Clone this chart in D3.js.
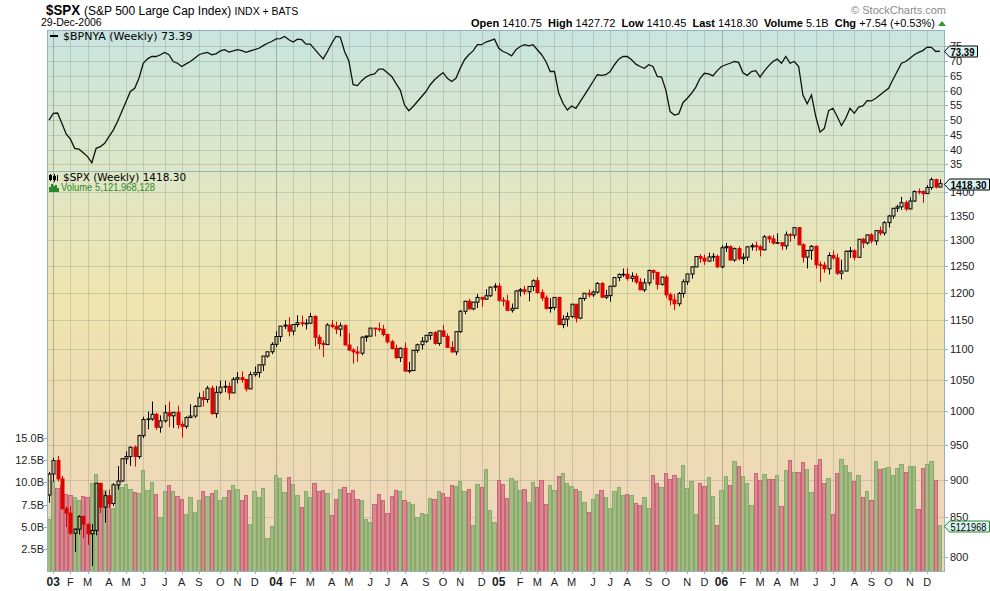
<!DOCTYPE html>
<html>
<head>
<meta charset="utf-8">
<script src="https://cdn.jsdelivr.net/npm/d3@7"></script>
<style>
body { margin: 0; background: #fff; }
svg text { font-family: "Liberation Sans", Arial, sans-serif; }
</style>
</head>
<body>
<svg id="chart" width="990" height="591"></svg>
<script>
// weekly $SPX, week ending 3-Jan-2003 .. 29-Dec-2006
var firstWeek = new Date(2003, 0, 3);

var opens = [
879.82,908.59,927.57,901.78,861.40,855.70,829.69,834.89,851.17,841.15,828.89,833.27,895.79,863.50,878.85,868.30,893.58,898.81,930.08,933.41,946.67,933.22,963.59,987.76,988.61,995.69,976.22,985.70,998.14,993.32,998.68,980.15,977.59,990.67,993.06,1008.01,1021.39,1018.63,1036.30,996.85,1029.85,1038.06,1039.32,1028.91,1050.71,1053.21,1050.35,1035.28,1058.20,1061.50,1074.14,1088.66,
1095.89,1108.48,1121.86,1139.83,1141.55,1131.13,1142.76,1145.81,1144.11,1144.94,1156.86,1120.57,1109.78,1108.06,1141.81,1139.32,1134.61,1140.60,1107.30,1098.70,1095.70,1093.56,1120.68,1122.50,1136.47,1135.02,1134.43,1125.38,1112.81,1101.39,1086.20,1101.72,1063.97,1064.80,1098.35,1107.77,1113.63,1123.92,1128.55,1110.11,1131.50,1122.14,1103.29,1095.74,1130.20,1166.17,1184.17,1170.34,1182.65,1191.17,1188.00,1194.20,1210.13,
1211.92,1186.19,1184.52,1167.87,1171.36,1203.03,1205.30,1201.59,1211.37,1222.12,1200.08,1190.21,1171.42,1172.92,1191.14,1142.62,1152.12,1156.85,1178.84,1154.05,1189.28,1198.78,1196.02,1200.93,1216.96,1191.57,1194.44,1211.86,1227.92,1233.68,1234.18,1226.42,1230.39,1219.71,1205.10,1218.02,1241.48,1237.91,1215.29,1228.81,1195.90,1186.57,1179.59,1198.41,1220.14,1234.72,1248.27,1268.25,1265.08,1259.37,1267.32,1268.66,
1248.29,1285.45,1287.61,1261.49,1283.72,1264.03,1266.99,1287.24,1289.43,1287.23,1281.42,1307.25,1302.95,1294.83,1295.50,1289.12,1311.28,1310.61,1325.76,1291.24,1267.03,1280.16,1288.22,1252.30,1251.54,1244.50,1270.20,1265.48,1236.20,1240.29,1278.55,1279.36,1266.74,1302.30,1295.09,1311.01,1298.92,1319.66,1314.78,1335.85,1349.59,1365.62,1368.60,1377.34,1364.30,1380.90,1401.20,1400.95,1396.71,1409.84,1427.09,1410.75
];

var highs = [
911.6,931.6,934.0,906.0,864.4,864.6,836.0,852.9,852.5,842.2,841.4,896.0,895.8,884.6,887.3,896.0,919.7,931.0,940.6,947.5,949.2,965.0,992.0,1000.0,1015.3,998.0,994.0,1010.0,1015.4,998.7,1009.0,985.0,992.5,1011.0,1010.0,1029.3,1032.4,1040.0,1040.3,1040.0,1048.3,1048.3,1046.0,1053.8,1062.4,1063.6,1050.4,1063.0,1071.4,1074.3,1088.7,1096.0,
1112.0,1131.0,1140.0,1150.1,1155.4,1143.0,1158.9,1158.2,1152.0,1163.2,1159.0,1125.0,1115.0,1144.8,1150.6,1147.8,1146.0,1142.8,1127.7,1102.0,1105.0,1122.0,1124.0,1136.5,1136.5,1146.3,1142.0,1126.0,1116.0,1108.0,1103.0,1111.6,1079.0,1099.0,1109.7,1121.0,1124.0,1129.8,1131.0,1131.6,1142.1,1127.0,1114.0,1131.0,1168.0,1184.8,1188.5,1183.0,1197.5,1191.5,1206.0,1211.0,1217.3,
1217.8,1192.0,1196.0,1180.0,1204.0,1208.4,1212.4,1212.0,1224.8,1229.1,1206.0,1195.0,1189.8,1191.9,1192.0,1159.0,1164.0,1178.9,1178.9,1191.0,1199.0,1205.6,1204.0,1219.6,1219.1,1205.0,1212.0,1229.0,1236.0,1245.2,1245.9,1237.8,1236.0,1227.0,1226.0,1243.1,1243.0,1238.0,1229.9,1233.3,1199.7,1197.3,1201.0,1224.7,1235.0,1249.6,1268.8,1272.9,1271.9,1275.8,1275.0,1272.0,
1290.8,1294.9,1290.0,1286.0,1287.9,1274.6,1289.0,1294.0,1297.6,1291.0,1310.9,1310.2,1310.5,1314.1,1296.6,1318.0,1314.7,1326.7,1326.7,1294.3,1280.5,1290.7,1290.0,1258.6,1257.9,1276.3,1280.4,1274.0,1262.0,1280.0,1287.0,1283.0,1302.3,1305.0,1312.0,1314.6,1320.0,1328.0,1339.2,1352.0,1366.0,1372.9,1389.5,1381.9,1388.6,1403.8,1407.9,1403.6,1415.0,1431.8,1429.0,1427.72
];

var lows = [
869.5,898.0,898.2,860.5,837.7,827.7,806.3,828.0,823.5,815.0,788.9,827.0,855.7,843.3,862.8,865.0,887.0,898.0,922.8,920.0,918.9,930.0,960.0,973.0,986.0,972.0,968.0,983.0,976.0,975.0,974.0,960.8,974.0,990.0,990.0,1008.0,1007.7,1013.6,995.0,990.4,1027.0,1030.0,1018.3,1028.9,1044.0,1045.0,1031.2,1035.0,1055.0,1053.4,1064.0,1086.0,
1092.0,1104.0,1113.0,1135.0,1122.0,1124.0,1138.0,1139.0,1134.0,1144.0,1105.0,1100.0,1087.2,1108.0,1136.0,1126.0,1122.0,1107.0,1098.0,1076.3,1079.0,1090.0,1113.0,1122.0,1122.0,1130.0,1122.0,1110.0,1100.0,1084.0,1078.8,1063.5,1060.7,1064.0,1094.0,1100.0,1111.0,1116.0,1108.0,1106.0,1121.0,1102.0,1094.0,1090.2,1128.0,1161.0,1170.0,1168.0,1172.0,1173.8,1187.0,1192.0,1203.0,
1183.0,1175.0,1167.8,1163.8,1171.0,1193.0,1196.0,1184.2,1203.0,1198.0,1185.0,1169.0,1163.7,1168.0,1142.6,1136.2,1139.0,1154.0,1146.2,1152.0,1185.0,1191.0,1192.0,1198.0,1191.0,1188.0,1183.5,1210.0,1221.0,1229.0,1222.0,1220.0,1216.0,1205.1,1201.1,1213.0,1224.0,1205.4,1213.0,1190.0,1176.4,1168.2,1175.0,1191.0,1214.0,1226.0,1248.0,1256.0,1252.0,1258.0,1258.9,1246.5,
1245.7,1277.0,1260.9,1257.9,1261.0,1253.6,1260.0,1280.0,1278.7,1268.4,1280.0,1295.0,1291.8,1294.0,1280.7,1282.0,1297.0,1303.5,1291.0,1256.6,1245.3,1262.0,1245.0,1219.3,1237.0,1234.0,1262.0,1233.0,1224.5,1240.0,1265.7,1261.0,1266.7,1285.0,1291.7,1294.0,1290.9,1310.0,1310.0,1326.0,1344.0,1358.0,1362.0,1360.0,1364.0,1379.0,1395.0,1377.0,1396.0,1404.8,1408.0,1410.45
];

var closes = [
908.59,927.57,901.78,861.40,855.70,829.69,834.89,851.17,841.15,828.89,833.27,895.79,863.50,878.85,868.30,893.58,898.81,930.08,933.41,946.67,933.22,963.59,987.76,988.61,995.69,976.22,985.70,998.14,993.32,998.68,980.15,977.59,990.67,993.06,1008.01,1021.39,1018.63,1036.30,996.85,1029.85,1038.06,1039.32,1028.91,1050.71,1053.21,1050.35,1035.28,1058.20,1061.50,1074.14,1088.66,1095.89,
1108.48,1121.86,1139.83,1141.55,1131.13,1142.76,1145.81,1144.11,1144.94,1156.86,1120.57,1109.78,1108.06,1141.81,1139.32,1134.61,1140.60,1107.30,1098.70,1095.70,1093.56,1120.68,1122.50,1136.47,1135.02,1134.43,1125.38,1112.81,1101.39,1086.20,1101.72,1063.97,1064.80,1098.35,1107.77,1113.63,1123.92,1128.55,1110.11,1131.50,1122.14,1103.29,1095.74,1130.20,1166.17,1184.17,1170.34,1182.65,1191.17,1188.00,1194.20,1210.13,1211.92,
1186.19,1184.52,1167.87,1171.36,1203.03,1205.30,1201.59,1211.37,1222.12,1200.08,1190.21,1171.42,1172.92,1191.14,1142.62,1152.12,1156.85,1178.84,1154.05,1189.28,1198.78,1196.02,1200.93,1216.96,1191.57,1194.44,1211.86,1227.92,1233.68,1234.18,1226.42,1230.39,1219.71,1205.10,1218.02,1241.48,1237.91,1215.29,1228.81,1195.90,1186.57,1179.59,1198.41,1220.14,1234.72,1248.27,1268.25,1265.08,1259.37,1267.32,1268.66,1248.29,
1285.45,1287.61,1261.49,1283.72,1264.03,1266.99,1287.24,1289.43,1287.23,1281.42,1307.25,1302.95,1294.83,1295.50,1289.12,1311.28,1310.61,1325.76,1291.24,1267.03,1280.16,1288.22,1252.30,1251.54,1244.50,1270.20,1265.48,1236.20,1240.29,1278.55,1279.36,1266.74,1302.30,1295.09,1311.01,1298.92,1319.66,1314.78,1335.85,1349.59,1365.62,1368.60,1377.34,1364.30,1380.90,1401.20,1400.95,1396.71,1409.84,1427.09,1410.76,1418.30
];

// volume, billions of shares
var volumes = [
5.8,10.1,9.3,9.6,8.6,8.5,8.3,7.9,8.4,8.3,9.85,10.9,9.85,9.1,8.0,7.1,9.6,9.4,9.7,9.2,8.85,8.7,11.3,9.1,10.0,8.6,6.1,9.0,9.6,8.9,8.4,8.1,6.4,8.3,6.65,8.0,8.9,8.4,8.7,9.1,7.9,8.3,9.1,9.6,9.2,8.0,8.55,5.3,8.9,8.3,9.3,3.75,
5.05,10.7,10.45,8.8,10.5,9.7,8.55,7.2,8.9,8.3,9.85,8.9,9.1,8.7,6.3,8.1,9.2,9.4,8.7,9.1,8.1,8.0,5.8,5.5,7.5,8.6,8.0,6.5,8.4,9.1,8.9,8.0,7.7,7.5,6.1,6.5,6.4,8.2,8.1,8.9,8.7,8.3,9.6,9.55,10.1,8.9,9.2,5.2,9.75,9.4,11.4,6.8,5.5,
10.2,9.75,8.2,10.4,10.1,9.1,9.2,7.7,10.0,9.4,10.2,7.5,9.6,9.1,10.6,11.0,9.85,9.55,9.2,9.0,7.7,6.6,8.1,8.6,9.1,8.3,7.1,8.9,9.4,8.55,8.6,8.5,7.6,7.4,8.3,7.1,10.75,9.9,9.4,11.0,10.3,10.75,10.4,11.85,9.3,10.1,6.4,9.85,9.5,10.5,8.4,5.1,
9.1,10.6,9.6,12.3,11.75,10.6,9.85,7.4,11.0,10.2,10.85,10.3,10.3,10.75,7.3,11.3,12.4,11.1,11.1,12.2,11.4,8.85,11.85,12.5,9.85,10.4,6.4,11.0,12.5,11.85,11.1,10.1,10.75,8.3,8.95,7.95,12.3,11.4,11.5,11.6,10.75,11.5,12.0,11.1,11.75,11.75,6.95,11.5,12.0,12.3,10.2,5.12
];

// $BPNYA weekly
var bpnya = [
50.0,52.3,52.4,48.9,45.3,43.5,40.4,40.1,38.9,37.6,35.5,40.4,41.0,42.1,44.4,46.6,49.5,52.9,56.3,59.7,60.8,64.2,69.3,70.8,71.6,71.6,72.2,73.0,72.2,69.9,69.3,68.2,69.1,69.9,71.0,72.2,72.7,73.0,72.2,72.5,73.5,73.9,73.1,73.5,73.9,73.6,73.0,73.5,73.9,74.4,75.3,76.1,
76.7,77.6,77.7,78.4,77.3,76.5,77.5,77.3,75.8,75.8,74.1,72.4,70.8,73.3,76.1,78.4,78.2,73.3,70.1,62.0,61.7,63.4,64.6,65.4,65.7,67.3,67.3,66.1,64.8,62.5,60.2,55.1,53.2,54.6,56.3,58.0,59.7,62.0,63.7,65.0,66.1,64.2,63.1,64.2,67.6,70.5,72.2,73.5,75.6,75.6,76.5,77.0,77.5,
74.4,73.3,72.7,71.8,73.9,75.0,75.6,75.2,75.6,73.9,72.2,69.9,66.5,66.5,59.1,55.7,53.4,54.8,54.0,56.3,58.5,60.8,63.1,65.4,65.2,65.4,66.5,68.8,70.7,71.6,71.6,70.5,69.0,68.2,67.6,68.8,68.2,64.8,64.6,60.2,52.9,51.7,52.1,55.9,57.4,59.1,61.2,64.2,65.9,65.7,65.0,66.8,
68.2,68.8,69.3,69.9,69.6,66.1,65.2,66.5,66.8,64.6,66.7,68.4,69.9,70.7,69.3,71.6,69.3,69.9,68.2,58.5,55.5,58.5,51.2,45.9,47.2,53.2,54.0,51.2,48.1,50.6,54.0,52.3,54.4,54.8,56.6,56.5,57.4,58.5,59.7,60.8,63.7,66.5,69.3,69.9,71.0,72.2,73.0,73.6,74.8,74.7,73.3,73.39
];

var priceTicks = [800,850,900,950,1000,1050,1100,1150,1200,1250,1300,1350,1400];
var bpTicks = [35,40,45,50,55,60,65,70,75];
var volTicks = [2.5,5.0,7.5,10.0,12.5,15.0];
var monthLetters = ["J","F","M","A","M","J","J","A","S","O","N","D"];

var headerItems = [
  ["Open", "1410.75"], ["High", "1427.72"], ["Low", "1410.45"],
  ["Last", "1418.30"], ["Volume", "5.1B"], ["Chg", "+7.54 (+0.53%)"]
];

function init() {
  var svg = d3.select("#chart");
  var L = 47, R = 944, T = 30, M = 171, B = 571;

  var x = d3.scaleLinear().domain([0, closes.length - 1]).range([49, 940]);
  var yPrice = d3.scaleLog().domain([783, 1446]).range([B, M]);
  var yVol = d3.scaleLinear().domain([0, 15]).range([571.5, 437.5]);
  var yBp = d3.scaleLinear().domain([32.7, 80.6]).range([M, T]);

  var defs = svg.append("defs");
  var grad = defs.append("linearGradient")
      .attr("id", "bg")
      .attr("gradientUnits", "userSpaceOnUse")
      .attr("x1", 0).attr("y1", T).attr("x2", 0).attr("y2", B);
  [[0, "#c8e4e0"], [0.25, "#dee6c8"], [0.5, "#efe4ae"], [0.78, "#eddab4"], [1, "#efd5c2"]]
    .forEach(function (s) {
      grad.append("stop").attr("offset", s[0]).attr("stop-color", s[1]);
    });
  defs.append("clipPath").attr("id", "clipMain")
    .append("rect").attr("x", L).attr("y", M).attr("width", R - L).attr("height", B - M);
  defs.append("clipPath").attr("id", "clipTop")
    .append("rect").attr("x", L).attr("y", T).attr("width", R - L).attr("height", M - T);

  svg.append("rect")
      .attr("x", L).attr("y", T)
      .attr("width", R - L).attr("height", B - T)
      .attr("fill", "url(#bg)");

  // month positions: first week whose Monday falls in a new month
  var weeks = closes.map(function (c, i) {
    var d = new Date(firstWeek.getTime());
    d.setDate(d.getDate() + 7 * i - 4);
    return d;
  });
  var months = [];
  weeks.forEach(function (d, i) {
    if (i > 0 && d.getMonth() !== weeks[i - 1].getMonth()) {
      months.push({ i: i, m: d.getMonth(), y: d.getFullYear() });
    }
  });

  // grid
  var grid = svg.append("g").attr("shape-rendering", "crispEdges");
  grid.selectAll(".vg").data(months).enter().append("line")
      .attr("x1", function (d) { return Math.round(x(d.i)) + 0.5; })
      .attr("x2", function (d) { return Math.round(x(d.i)) + 0.5; })
      .attr("y1", T).attr("y2", B)
      .attr("stroke", function (d) { return d.m === 0 ? "rgba(95,115,95,0.45)" : "rgba(120,135,110,0.28)"; });
  grid.selectAll(".hp").data(priceTicks).enter().append("line")
      .attr("x1", L).attr("x2", R)
      .attr("y1", function (d) { return Math.round(yPrice(d)) + 0.5; })
      .attr("y2", function (d) { return Math.round(yPrice(d)) + 0.5; })
      .attr("stroke", "rgba(120,135,110,0.28)");
  grid.selectAll(".hb").data(bpTicks).enter().append("line")
      .attr("x1", L).attr("x2", R)
      .attr("y1", function (d) { return Math.round(yBp(d)) + 0.5; })
      .attr("y2", function (d) { return Math.round(yBp(d)) + 0.5; })
      .attr("stroke", "rgba(120,135,110,0.28)");

  // volume
  var main = svg.append("g").attr("clip-path", "url(#clipMain)");
  var bw = x(1) - x(0);
  function isDown(i) {
    var prev = i === 0 ? opens[0] : closes[i - 1];
    return closes[i] < prev;
  }
  main.append("g").attr("shape-rendering", "crispEdges")
    .selectAll("rect").data(volumes).enter().append("rect")
      .attr("x", function (d, i) { return x(i) - bw / 2 + 0.5; })
      .attr("width", bw - 1)
      .attr("y", function (d) { return yVol(d); })
      .attr("height", function (d) { return yVol(0) - yVol(d); })
      .attr("fill", function (d, i) { return isDown(i) ? "#d88a90" : "#a6ba84"; })
      .attr("stroke", function (d, i) { return isDown(i) ? "#cc6478" : "#88aa6c"; })
      .attr("stroke-width", 1);

  // candles
  var candles = main.append("g").selectAll("g").data(closes).enter().append("g");
  function candleColor(i) { return isDown(i) ? "#e00000" : "#000000"; }
  candles.append("line")
      .attr("x1", function (d, i) { return Math.round(x(i)) + 0.5; })
      .attr("x2", function (d, i) { return Math.round(x(i)) + 0.5; })
      .attr("y1", function (d, i) { return yPrice(highs[i]); })
      .attr("y2", function (d, i) { return yPrice(Math.max(opens[i], closes[i])); })
      .attr("stroke", function (d, i) { return candleColor(i); });
  candles.append("line")
      .attr("x1", function (d, i) { return Math.round(x(i)) + 0.5; })
      .attr("x2", function (d, i) { return Math.round(x(i)) + 0.5; })
      .attr("y1", function (d, i) { return yPrice(Math.min(opens[i], closes[i])); })
      .attr("y2", function (d, i) { return yPrice(lows[i]); })
      .attr("stroke", function (d, i) { return candleColor(i); });
  candles.append("rect")
      .attr("x", function (d, i) { return Math.round(x(i)) - 1; })
      .attr("width", 3)
      .attr("y", function (d, i) { return yPrice(Math.max(opens[i], closes[i])); })
      .attr("height", function (d, i) {
        return Math.max(0.6, yPrice(Math.min(opens[i], closes[i])) - yPrice(Math.max(opens[i], closes[i])));
      })
      .attr("fill", function (d, i) { return closes[i] < opens[i] ? candleColor(i) : "none"; })
      .attr("stroke", function (d, i) { return candleColor(i); })
      .attr("stroke-width", 1);

  // BPNYA line
  svg.append("g").attr("clip-path", "url(#clipTop)")
    .append("path")
      .datum(bpnya)
      .attr("d", d3.line().x(function (d, i) { return x(i); }).y(function (d) { return yBp(d); }))
      .attr("fill", "none")
      .attr("stroke", "#111")
      .attr("stroke-width", 1.3);

  // frame
  var frame = svg.append("g").attr("shape-rendering", "crispEdges")
      .attr("stroke", "#93b3bd").attr("fill", "none");
  frame.append("rect").attr("x", L + 0.5).attr("y", T + 0.5).attr("width", R - L).attr("height", B - T);
  frame.append("line").attr("x1", L).attr("x2", R).attr("y1", M + 0.5).attr("y2", M + 0.5);

  // right axes
  var axisR = svg.append("g").attr("font-size", "11px").attr("fill", "#222");
  axisR.selectAll(".pl").data(priceTicks).enter().append("text")
      .attr("x", 950).attr("y", function (d) { return yPrice(d) + 4; })
      .text(function (d) { return d; });
  axisR.selectAll(".bl").data(bpTicks).enter().append("text")
      .attr("x", 950).attr("y", function (d) { return yBp(d) + 4; })
      .text(function (d) { return d; });
  var ticks = svg.append("g").attr("stroke", "#93b3bd").attr("shape-rendering", "crispEdges");
  ticks.selectAll(".pt").data(priceTicks).enter().append("line")
      .attr("x1", R).attr("x2", R + 4)
      .attr("y1", function (d) { return Math.round(yPrice(d)) + 0.5; })
      .attr("y2", function (d) { return Math.round(yPrice(d)) + 0.5; });
  ticks.selectAll(".bt").data(bpTicks).enter().append("line")
      .attr("x1", R).attr("x2", R + 4)
      .attr("y1", function (d) { return Math.round(yBp(d)) + 0.5; })
      .attr("y2", function (d) { return Math.round(yBp(d)) + 0.5; });
  ticks.selectAll(".vt").data(volTicks).enter().append("line")
      .attr("x1", L - 3).attr("x2", L)
      .attr("y1", function (d) { return Math.round(yVol(d)) + 0.5; })
      .attr("y2", function (d) { return Math.round(yVol(d)) + 0.5; });
  ticks.selectAll(".mt").data(months).enter().append("line")
      .attr("x1", function (d) { return Math.round(x(d.i)) + 0.5; })
      .attr("x2", function (d) { return Math.round(x(d.i)) + 0.5; })
      .attr("y1", B).attr("y2", B + 3);

  // left volume axis
  svg.append("g").attr("font-size", "11px").attr("fill", "#222").attr("text-anchor", "end")
    .selectAll("text").data(volTicks).enter().append("text")
      .attr("x", 44).attr("y", function (d) { return yVol(d) + 4; })
      .text(function (d) { return d.toFixed(1) + "B"; });

  // x axis labels
  svg.append("g").attr("text-anchor", "middle")
    .selectAll("text").data(months).enter().append("text")
      .attr("x", function (d) { return x(d.i); })
      .attr("y", 586)
      .attr("font-size", function (d) { return d.m === 0 ? "12px" : "11px"; })
      .attr("font-weight", function (d) { return d.m === 0 ? "bold" : "normal"; })
      .attr("fill", "#222")
      .text(function (d) { return d.m === 0 ? String(d.y).slice(2) : monthLetters[d.m]; });

  // value tags, drawn over the axis labels
  function tag(y, x0, x1, label, border, bold) {
    var g = svg.append("g");
    g.append("path")
        .attr("d", "M" + x0 + "," + y + " L" + (x0 + 5) + "," + (y - 5.5) + " L" + x1 + "," + (y - 5.5) +
                   " L" + x1 + "," + (y + 5.5) + " L" + (x0 + 5) + "," + (y + 5.5) + " Z")
        .attr("fill", "#d9f4f2").attr("stroke", border).attr("stroke-width", 1);
    g.append("text").attr("x", x0 + 6).attr("y", y + 4)
        .attr("font-size", "11px").attr("font-weight", bold ? "bold" : "normal")
        .attr("textLength", x1 - x0 - 9).attr("lengthAdjust", "spacingAndGlyphs")
        .attr("fill", "#000").text(label);
  }
  tag(Math.round(yBp(bpnya[bpnya.length - 1])) + 0.5, 944.5, 977.5, "73.39", "#000", true);
  tag(Math.round(yPrice(closes[closes.length - 1])) + 0.5, 944.5, 989.5, "1418.30", "#000", true);
  tag(Math.round(yVol(volumes[volumes.length - 1])) + 0.5, 944.5, 989.5, "5121968", "#2a8a2a", false);

  // legends
  svg.append("rect").attr("x", 50).attr("y", 35).attr("width", 8).attr("height", 2).attr("fill", "#000");
  svg.append("text").attr("x", 63).attr("y", 40)
      .style("font-family", "'DejaVu Sans', Verdana, sans-serif").attr("font-size", "11px")
      .text("$BPNYA (Weekly) 73.39");
  var icon = svg.append("g").attr("stroke", "#000").attr("shape-rendering", "crispEdges");
  icon.append("line").attr("x1", 50.5).attr("x2", 50.5).attr("y1", 174).attr("y2", 181);
  icon.append("rect").attr("x", 49.5).attr("y", 175.5).attr("width", 2).attr("height", 4).attr("fill", "#000");
  icon.append("line").attr("x1", 54.5).attr("x2", 54.5).attr("y1", 174).attr("y2", 182);
  icon.append("rect").attr("x", 53.5).attr("y", 176.5).attr("width", 2).attr("height", 3).attr("fill", "none");
  icon.append("line").attr("x1", 57.5).attr("x2", 57.5).attr("y1", 175).attr("y2", 181);
  svg.append("text").attr("x", 63).attr("y", 181)
      .style("font-family", "'DejaVu Sans', Verdana, sans-serif").attr("font-size", "10.5px")
      .text("$SPX (Weekly) 1418.30");
  var vicon = svg.append("g").attr("fill", "#2a8a2a").attr("shape-rendering", "crispEdges");
  [[49, 5], [51, 8], [53, 6], [55, 7], [57, 4]].forEach(function (b) {
    vicon.append("rect").attr("x", b[0]).attr("y", 192 - b[1]).attr("width", 1.6).attr("height", b[1]);
  });
  svg.append("text").attr("x", 61).attr("y", 191)
      .attr("font-size", "10px").attr("fill", "#2a8a2a")
      .attr("textLength", 94).attr("lengthAdjust", "spacingAndGlyphs")
      .text("Volume 5,121,968,128");

  // header
  svg.append("text").attr("x", 46).attr("y", 15)
      .attr("font-size", "15px").attr("font-weight", "bold")
      .attr("textLength", 34).attr("lengthAdjust", "spacingAndGlyphs")
      .text("$SPX");
  var sub = svg.append("text").attr("x", 84).attr("y", 15).attr("font-size", "12px");
  sub.append("tspan").text("(S&P 500 Large Cap Index) ");
  sub.append("tspan").attr("font-size", "10.5px").text("INDX + BATS");
  svg.append("text").attr("x", 41).attr("y", 26)
      .attr("font-size", "10.5px").text("29-Dec-2006");
  svg.append("text").attr("x", 946).attr("y", 14).attr("text-anchor", "end")
      .attr("font-size", "11px").attr("fill", "#8a8a8a").text("\u00a9 StockCharts.com");

  var hdr = svg.append("text").attr("x", 935).attr("y", 27).attr("text-anchor", "end")
      .attr("font-size", "11px").attr("fill", "#000")
      .attr("xml:space", "preserve").style("white-space", "pre");
  headerItems.forEach(function (h, k) {
    hdr.append("tspan").attr("font-weight", "bold").text((k ? "  " : "") + h[0] + " ");
    hdr.append("tspan").text(h[1]);
  });
  svg.append("path").attr("d", "M938,26 L946,26 L942,21 Z").attr("fill", "#2a9a2a");
}

window.onload = init;
</script>
</body>
</html>
